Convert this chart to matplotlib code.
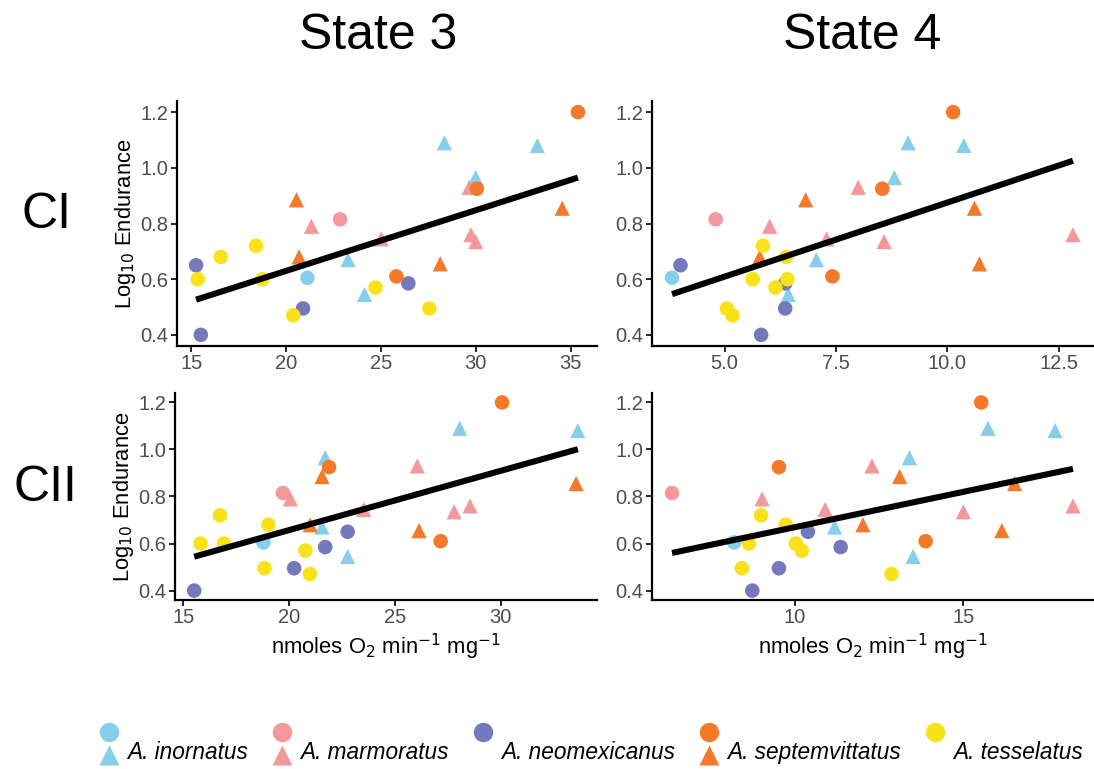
import matplotlib
matplotlib.use("Agg")
import matplotlib.pyplot as plt
from matplotlib.lines import Line2D
import numpy as np

plt.rcParams['font.family'] = ['Liberation Sans', 'DejaVu Sans']

# ---------------- data ----------------
species = ["A. inornatus", "A. marmoratus", "A. neomexicanus",
           "A. septemvittatus", "A. tesselatus"]
colors = {"A. inornatus": "#87CEEB", "A. marmoratus": "#F4999B",
          "A. neomexicanus": "#7479BC", "A. septemvittatus": "#F47A2A",
          "A. tesselatus": "#F9E21A"}

# per-point species and shape (o = circle, ^ = triangle)
point_species = (["A. inornatus"] * 6 + ["A. marmoratus"] * 6 +
                 ["A. neomexicanus"] * 4 + ["A. septemvittatus"] * 7 +
                 ["A. tesselatus"] * 7)
point_shape = (["o"] + ["^"] * 5 + ["o"] + ["^"] * 5 + ["o"] * 4 +
               ["o"] * 3 + ["^"] * 4 + ["o"] * 7)

log_endurance = [0.605, 1.09, 1.08, 0.965, 0.67, 0.545,
                 0.815, 0.93, 0.79, 0.76, 0.745, 0.735,
                 0.65, 0.585, 0.495, 0.40,
                 1.20, 0.925, 0.61, 0.885, 0.855, 0.68, 0.655,
                 0.72, 0.68, 0.60, 0.60, 0.57, 0.495, 0.47]

ci_state3 = [21.13, 28.35, 33.25, 30.0, 23.27, 24.14,
             22.85, 29.66, 21.34, 29.75, 25.02, 30.0,
             15.26, 26.45, 20.9, 15.51,
             35.39, 30.06, 25.82, 20.55, 34.56, 20.69, 28.13,
             18.42, 16.56, 15.35, 18.75, 24.72, 27.56, 20.38]

ci_state4 = [3.82, 9.12, 10.37, 8.81, 7.06, 6.43,
             4.80, 8.0, 6.01, 12.82, 7.29, 8.58,
             4.01, 6.36, 6.36, 5.82,
             10.13, 8.54, 7.42, 6.82, 10.61, 5.79, 10.72,
             5.86, 6.38, 5.63, 6.41, 6.14, 5.05, 5.18]

cii_state3 = [18.79, 28.06, 33.64, 21.71, 21.56, 22.77,
              19.71, 26.06, 20.06, 28.55, 23.53, 27.8,
              22.77, 21.71, 20.24, 15.52,
              30.06, 21.89, 27.16, 21.56, 33.56, 21.0, 26.14,
              16.74, 19.03, 15.82, 16.93, 20.77, 18.84, 20.99]

cii_state4 = [8.20, 15.73, 17.72, 13.40, 11.18, 13.51,
              6.36, 12.29, 9.03, 18.25, 10.90, 15.0,
              10.39, 11.36, 9.53, 8.74,
              15.53, 9.53, 13.88, 13.11, 16.52, 12.02, 16.14,
              9.0, 9.73, 8.64, 10.03, 10.21, 8.43, 12.87]

col_titles = ["State 3", "State 4"]
row_titles = ["CI", "CII"]
xticks_ci_s3 = [15, 20, 25, 30, 35]
xticks_ci_s4 = [5.0, 7.5, 10.0, 12.5]
xticks_cii_s3 = [15, 20, 25, 30]
xticks_cii_s4 = [10, 15]
yticks = [0.4, 0.6, 0.8, 1.0, 1.2]

# ---------------- figure ----------------
W, H = 1094, 769
fig = plt.figure(figsize=(W / 100, H / 100), dpi=100)

def box(l, r, t, b):
    return [l / W, 1 - b / H, (r - l) / W, (b - t) / H]

axes_rects = [box(177, 597, 101, 346), box(652, 1093, 101, 346),
              box(175, 597, 393, 600), box(652, 1093, 393, 600)]
xs_list = [ci_state3, ci_state4, cii_state3, cii_state4]
xticks_list = [xticks_ci_s3, xticks_ci_s4, xticks_cii_s3, xticks_cii_s4]
xfmt = ["{:.0f}", "{:.1f}", "{:.0f}", "{:.0f}"]

y = np.array(log_endurance)
for i, (rect, xs, xt) in enumerate(zip(axes_rects, xs_list, xticks_list)):
    ax = fig.add_axes(rect)
    x = np.array(xs)
    for sp in species:
        for shp, s in (("o", 110), ("^", 120)):
            m = np.array([(ps == sp and sh == shp)
                          for ps, sh in zip(point_species, point_shape)])
            if m.any():
                ax.scatter(x[m], y[m], marker=shp, s=s, color=colors[sp],
                           edgecolors="none", zorder=2)
    # regression line
    k, b0 = np.polyfit(x, y, 1)
    xl = np.array([x.min(), x.max()])
    ax.plot(xl, k * xl + b0, color="black", lw=4.4, solid_capstyle="butt",
            zorder=3)
    ax.margins(0.05)
    ax.set_xticks(xt)
    ax.set_xticklabels([xfmt[i].format(v) for v in xt])
    ax.set_yticks(yticks)
    ax.set_yticklabels(["{:.1f}".format(v) for v in yticks])
    for s in ("top", "right"):
        ax.spines[s].set_visible(False)
    for s in ("left", "bottom"):
        ax.spines[s].set_linewidth(1.6)
    ax.tick_params(axis="both", labelsize=14.5, labelcolor="#4D4D4D",
                   length=4, width=1.2, color="black", pad=2)
    if i in (0, 2):
        ax.set_ylabel("Log$_{10}$ Endurance", fontsize=15.8, labelpad=2)
    if i in (2, 3):
        ax.set_xlabel("nmoles O$_2$ min$^{-1}$ mg$^{-1}$", fontsize=15.8,
                      labelpad=3)

fig.text(378 / W, 1 - 36 / H, col_titles[0], fontsize=36, ha="center",
         va="center")
fig.text(862 / W, 1 - 36 / H, col_titles[1], fontsize=36, ha="center",
         va="center")
fig.text(47 / W, 1 - 215 / H, row_titles[0], fontsize=36, ha="center",
         va="center")
fig.text(45 / W, 1 - 488 / H, row_titles[1], fontsize=36, ha="center",
         va="center")

# ---------------- legend ----------------
class StackKey:
    def __init__(self, color, tri):
        self.color = color
        self.tri = tri

class StackHandler:
    def legend_artist(self, legend, orig_handle, fontsize, handlebox):
        x0, y0 = handlebox.xdescent, handlebox.ydescent
        w, h = handlebox.width, handlebox.height
        cx = x0 + w / 2
        tr = handlebox.get_transform()
        c = Line2D([cx], [y0 + h * 0.80], marker="o", ms=14, ls="none",
                   color=orig_handle.color, mec="none", transform=tr)
        handlebox.add_artist(c)
        if orig_handle.tri:
            t = Line2D([cx], [y0 - h * 0.06], marker="^", ms=14, ls="none",
                       color=orig_handle.color, mec="none", transform=tr)
            handlebox.add_artist(t)
        return c

has_tri = {"A. inornatus": True, "A. marmoratus": True,
           "A. neomexicanus": False, "A. septemvittatus": True,
           "A. tesselatus": False}
handles = [StackKey(colors[sp], has_tri[sp]) for sp in species]
leg = fig.legend(handles, species, handler_map={StackKey: StackHandler()},
                 loc="center", bbox_to_anchor=(591 / W, 1 - 752 / H),
                 ncol=5, frameon=False, handlelength=0.9, handleheight=1.45,
                 handletextpad=0.35, columnspacing=1.05,
                 prop={"style": "italic", "size": 16.3})

fig.savefig("out.png", dpi=100)
